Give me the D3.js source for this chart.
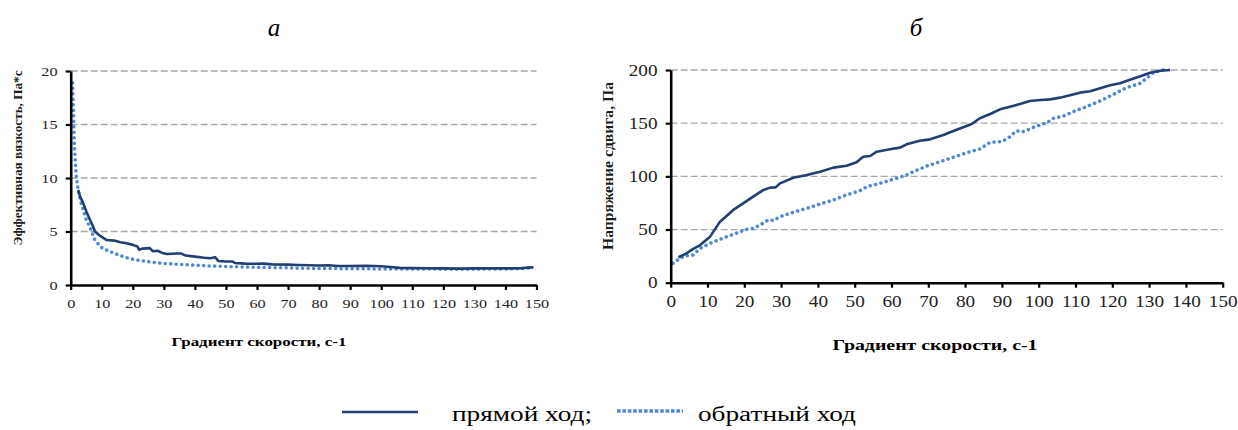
<!DOCTYPE html>
<head>
<meta charset="utf-8">
<script src="https://d3js.org/d3.v7.min.js"></script>
<style>
  body { margin: 0; background: #fff; }
  svg text { font-family: "Liberation Serif", "DejaVu Serif", serif; }
</style>
</head>
<body>
<svg id="chart" width="1238" height="430"></svg>
<script>
  // Panel а: effective viscosity vs shear rate
  const viscFwdX = [2.4, 3, 4.1, 5, 6.2, 7, 7.8, 9, 10, 11.6, 14, 16, 18, 20, 21.5, 22, 23, 25.5, 26.5, 28, 29.5, 31, 34, 35.5, 37, 40, 43, 45, 46.5, 47.5, 50, 52, 53, 56, 60, 62, 65, 70, 73, 77, 80, 83, 86, 90, 95, 100, 103, 106, 110, 115, 120, 125, 130, 135, 140, 145, 147, 149];
  const viscFwdY = [8.9, 8.3, 7.6, 6.9, 6.1, 5.6, 5.0, 4.7, 4.5, 4.2, 4.15, 4.0, 3.9, 3.75, 3.6, 3.3, 3.4, 3.45, 3.15, 3.2, 3.0, 2.9, 2.95, 2.95, 2.75, 2.65, 2.55, 2.5, 2.6, 2.25, 2.2, 2.2, 2.05, 2.0, 1.98, 2.0, 1.93, 1.9, 1.87, 1.85, 1.82, 1.85, 1.78, 1.78, 1.8, 1.75, 1.68, 1.6, 1.58, 1.57, 1.55, 1.53, 1.55, 1.55, 1.55, 1.57, 1.62, 1.65];
  const viscRevX = [0.6, 0.8, 1.0, 1.2, 1.5, 1.8, 2.4, 3.2, 4.1, 5, 6.2, 7, 7.8, 9, 10, 12, 13.7, 16, 18, 20, 23, 26.5, 30, 33, 40, 45, 52, 60, 70, 74, 80, 90, 100, 110, 120, 125, 130, 140, 145, 148];
  const viscRevY = [18.9, 17, 15, 13, 11.5, 10.2, 8.9, 7.8, 7.0, 6.1, 5.4, 4.8, 4.2, 3.8, 3.5, 3.2, 3.0, 2.75, 2.55, 2.4, 2.25, 2.12, 2.02, 1.96, 1.85, 1.78, 1.71, 1.65, 1.6, 1.56, 1.55, 1.52, 1.5, 1.5, 1.48, 1.46, 1.48, 1.5, 1.52, 1.6];
  const viscTicks = [0, 5, 10, 15, 20];

  // Panel б: shear stress vs shear rate
  const stressFwdX = [2.1, 4.3, 6, 8, 10.7, 13.4, 17, 19.7, 22.4, 25.2, 27, 28.5, 29.7, 33.3, 37, 40.6, 44.2, 47.8, 50.5, 52.3, 54.2, 56, 59.6, 62.3, 64.1, 67.7, 70.5, 74.1, 76.8, 79.5, 81.8, 84, 86.8, 89.5, 92.2, 94.9, 97.6, 100.4, 103.1, 105.8, 108.5, 111.2, 114, 116.7, 119.4, 122.1, 124.8, 127.6, 130.3, 133, 135.7];
  const stressFwdY = [23.9, 27.6, 31.5, 35.4, 43.3, 57.4, 68.4, 74.6, 80.9, 87.2, 89.4, 89.6, 93.4, 98.7, 101.3, 104.4, 108.2, 110, 113.2, 118.5, 119.1, 123.2, 125.4, 127, 130.1, 133.5, 134.8, 138.9, 142.6, 146.1, 149.2, 154.6, 158.6, 163, 165.5, 168, 170.9, 171.8, 172.4, 174, 176.2, 178.7, 180, 182.8, 185.6, 187.5, 190.9, 194.1, 197.5, 199.3, 200];
  const stressRevX = [0.6, 2.5, 3.9, 6, 8, 10.7, 13.4, 17, 20.6, 22.4, 24.3, 26.5, 28, 29.7, 33.3, 37, 40.6, 44.2, 47.8, 51.4, 53.3, 56.9, 60.5, 64.1, 65.9, 69.6, 73.2, 76.8, 80.4, 84, 86.8, 89.5, 91.3, 94, 95.8, 99.5, 102.2, 104, 106.7, 109.4, 113, 116.7, 120.3, 123.9, 127.6, 129.3, 131.1, 133.8];
  const stressRevY = [18.2, 22.9, 25.1, 26, 32.3, 37, 40.8, 45.5, 50.2, 51.1, 54.3, 59, 58.5, 62.1, 66.2, 70, 74, 77.8, 82.5, 86.5, 90.3, 93.5, 97.2, 101.3, 104.4, 109.7, 113.8, 117.9, 122.2, 125.7, 132, 132.6, 134.8, 142.9, 142, 147.3, 150.4, 154.6, 156.7, 160.8, 165.5, 170.9, 177.1, 183.4, 187.5, 192.2, 197.5, 200];
  const stressTicks = [0, 50, 100, 150, 200];

  const rateTicks = d3.range(0, 151, 10);
  const xTitle = "Градиент скорости, с-1";
  const legendLabels = ["прямой ход;", "обратный ход"];

  const fwdColor = "#213f72",
        revColor = "#4f88d6";
  const serif = "'Liberation Serif', 'DejaVu Serif', serif";

  const svg = d3.select("#chart");

  function zip(xs, ys) {
    return xs.map((x, i) => [x, ys[i]]);
  }

  function panel(opt) {
    const x = d3.scaleLinear().domain([0, 150]).range(opt.xr);
    const y = d3.scaleLinear().domain([0, opt.ymax]).range(opt.yr);
    const g = svg.append("g");

    // dashed grid
    g.append("g")
      .selectAll("line")
      .data(opt.yticks.filter(d => d > 0))
      .join("line")
      .attr("x1", x(0)).attr("x2", x(150))
      .attr("y1", d => y(d)).attr("y2", d => y(d))
      .attr("stroke", "#a8a8a8")
      .attr("stroke-width", 1.3)
      .attr("stroke-dasharray", "7,3");

    const line = d3.line().x(d => x(d[0])).y(d => y(d[1]));

    g.append("path")
      .datum(zip(opt.revX, opt.revY))
      .attr("d", line)
      .attr("fill", "none")
      .attr("stroke", revColor)
      .attr("stroke-width", 3.5)
      .attr("stroke-linecap", "round")
      .attr("stroke-dasharray", "0.1,5.4");

    g.append("path")
      .datum(zip(opt.fwdX, opt.fwdY))
      .attr("d", line)
      .attr("fill", "none")
      .attr("stroke", fwdColor)
      .attr("stroke-width", 2.6)
      .attr("stroke-linejoin", "round");

    // axes
    const xa = g.append("g")
      .attr("transform", `translate(0,${y(0)})`)
      .call(d3.axisBottom(x).tickValues(rateTicks).tickSize(5).tickSizeOuter(0).tickPadding(8));
    const ya = g.append("g")
      .attr("transform", `translate(${x(0)},0)`)
      .call(d3.axisLeft(y).tickValues(opt.yticks).tickSize(5).tickSizeOuter(0).tickPadding(6));

    [xa, ya].forEach(a => {
      a.attr("font-family", serif).attr("font-size", opt.tickFont);
      a.select(".domain").attr("stroke", "#000").attr("stroke-width", 2.6);
      a.selectAll(".tick line").attr("stroke", "#000").attr("stroke-width", 2.2);
      a.selectAll(".tick text")
        .attr("fill", "#222")
        .attr("transform", `scale(${opt.stretch},1)`);
    });

    // panel letter
    g.append("text")
      .attr("x", opt.letterX).attr("y", 36)
      .attr("text-anchor", "middle")
      .attr("font-family", serif)
      .style("font-size", "25px")
      .style("font-style", "italic")
      .text(opt.letter);

    g.append("text")
      .attr("x", opt.xTitleX - opt.xTitleLen / 2).attr("y", opt.xTitleY)
      .attr("font-family", serif)
      .attr("textLength", opt.xTitleLen)
      .attr("lengthAdjust", "spacingAndGlyphs")
      .style("font-size", opt.xTitleFont + "px")
      .style("font-weight", "bold")
      .text(xTitle);

    g.append("text")
      .attr("transform", `translate(${opt.yTitleX},${opt.yTitleY}) rotate(-90)`)
      .attr("x", -opt.yTitleLen / 2)
      .attr("dy", "0.35em")
      .attr("font-family", serif)
      .attr("textLength", opt.yTitleLen)
      .attr("lengthAdjust", "spacingAndGlyphs")
      .style("font-size", opt.yTitleFont + "px")
      .style("font-weight", "bold")
      .attr("fill", "#1a1a1a")
      .text(opt.yTitle);
  }

  panel({
    xr: [70.7, 536.5], yr: [285, 71], ymax: 20, yticks: viscTicks,
    fwdX: viscFwdX, fwdY: viscFwdY, revX: viscRevX, revY: viscRevY,
    tickFont: 13.5, stretch: 1.2,
    letter: "а", letterX: 274,
    xTitleX: 259, xTitleY: 346, xTitleFont: 13, xTitleLen: 175,
    yTitle: "Эффективная вязкость, Па*с", yTitleX: 17, yTitleY: 158, yTitleFont: 13, yTitleLen: 175
  });

  panel({
    xr: [670.7, 1222.7], yr: [282.7, 70], ymax: 200, yticks: stressTicks,
    fwdX: stressFwdX, fwdY: stressFwdY, revX: stressRevX, revY: stressRevY,
    tickFont: 16, stretch: 1.2,
    letter: "б", letterX: 916,
    xTitleX: 935, xTitleY: 350, xTitleFont: 15.5, xTitleLen: 205,
    yTitle: "Напряжение сдвига, Па", yTitleX: 608, yTitleY: 166, yTitleFont: 15.5, yTitleLen: 168
  });

  // legend
  const legend = svg.append("g");
  legend.append("line")
    .attr("x1", 342).attr("x2", 418).attr("y1", 412).attr("y2", 412)
    .attr("stroke", fwdColor).attr("stroke-width", 2.6);
  legend.append("line")
    .attr("x1", 617).attr("x2", 683).attr("y1", 411).attr("y2", 411)
    .attr("stroke", revColor).attr("stroke-width", 3.6)
    .attr("stroke-dasharray", "3.6,1.8");
  legend.selectAll("text.lbl")
    .data(legendLabels)
    .join("text")
    .attr("class", "lbl")
    .attr("x", (d, i) => [452, 698][i])
    .attr("y", 421)
    .attr("font-family", serif)
    .attr("textLength", (d, i) => [140, 158][i])
    .attr("lengthAdjust", "spacingAndGlyphs")
    .style("font-size", "20px")
    .text(d => d);
</script>
</body>
